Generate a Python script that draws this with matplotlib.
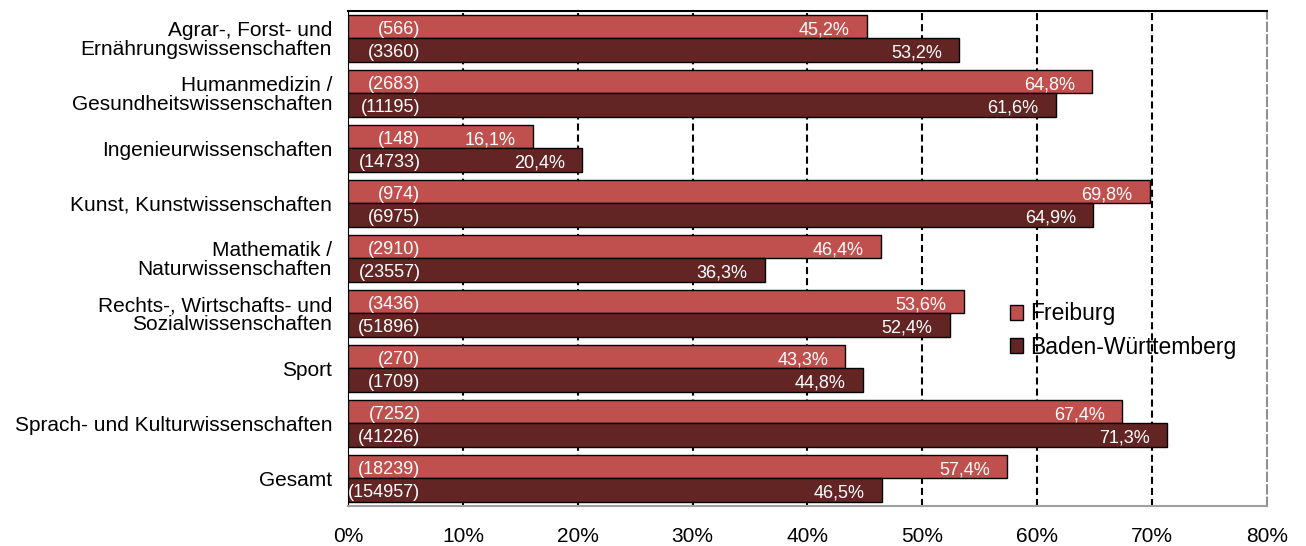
import numpy as np
import matplotlib.pyplot as plt

plt.rcParams['font.family'] = ['Liberation Sans', 'DejaVu Sans']

# Fächergruppen und Anteile
categories = [
    'Agrar-, Forst- und\nErnährungswissenschaften',
    'Humanmedizin /\nGesundheitswissenschaften',
    'Ingenieurwissenschaften',
    'Kunst, Kunstwissenschaften',
    'Mathematik /\nNaturwissenschaften',
    'Rechts-, Wirtschafts- und\nSozialwissenschaften',
    'Sport',
    'Sprach- und Kulturwissenschaften',
    'Gesamt',
]
freiburg_pct = [45.2, 64.8, 16.1, 69.8, 46.4, 53.6, 43.3, 67.4, 57.4]
freiburg_n = [566, 2683, 148, 974, 2910, 3436, 270, 7252, 18239]
bw_pct = [53.2, 61.6, 20.4, 64.9, 36.3, 52.4, 44.8, 71.3, 46.5]
bw_n = [3360, 11195, 14733, 6975, 23557, 51896, 1709, 41226, 154957]
x_ticks = [0, 10, 20, 30, 40, 50, 60, 70, 80]

col_fr = '#C0504D'
col_bw = '#632523'

fig = plt.figure(figsize=(13.06, 5.46), dpi=100)
ax = fig.add_axes([0.2665, 0.0733, 0.7035, 0.9067])

y = np.arange(len(categories))
h = 0.42

b1 = ax.barh(y - h / 2, freiburg_pct, height=h, color=col_fr, edgecolor='black',
             linewidth=1.0, label='Freiburg', zorder=3)
b2 = ax.barh(y + h / 2, bw_pct, height=h, color=col_bw, edgecolor='black',
             linewidth=1.0, label='Baden-Württemberg', zorder=3)

# Beschriftungen: Prozentwert am Balkenende, Fallzahl links
for bars, pcts, ns in ((b1, freiburg_pct, freiburg_n), (b2, bw_pct, bw_n)):
    for bar, p, n in zip(bars, pcts, ns):
        yc = bar.get_y() + bar.get_height() / 2 + 0.05
        ax.text(p - 1.5, yc, f'{p:.1f}%'.replace('.', ','), color='white',
                ha='right', va='center', fontsize=13, zorder=4)
        ax.text(6.3, yc, f'({n})', color='white',
                ha='right', va='center', fontsize=13, zorder=4)

ax.set_xlim(0, 80)
ax.set_ylim(len(categories) - 0.5, -0.5)
ax.set_xticks(x_ticks)
ax.set_xticklabels([f'{t}%' for t in x_ticks], fontsize=15)
ax.set_yticks(y)
ax.set_yticklabels(categories, fontsize=15, linespacing=1.0)
ax.tick_params(axis='both', length=0)
ax.tick_params(axis='x', pad=15)
ax.tick_params(axis='y', pad=11.5)

for t in x_ticks[1:-1]:
    ax.axvline(t, color='black', linestyle=(0, (3.4, 1.9)), linewidth=1.5, zorder=1)

ax.spines['left'].set_color('black')
ax.spines['top'].set_color('black')
ax.spines['top'].set_linewidth(1.5)
ax.spines['bottom'].set_color('#A0A0A0')
ax.spines['bottom'].set_linewidth(1.5)
ax.spines['right'].set_color('#909090')
ax.spines['right'].set_linestyle((0, (4, 2)))
ax.spines['right'].set_linewidth(1.5)

ax.legend(loc='center left', bbox_to_anchor=(0.720, 0.3545), frameon=False,
          fontsize=16.5, handlelength=0.6, handleheight=0.6, handletextpad=0.3,
          labelspacing=0.45, borderaxespad=0, borderpad=0)

fig.savefig('out.png', dpi=100)
